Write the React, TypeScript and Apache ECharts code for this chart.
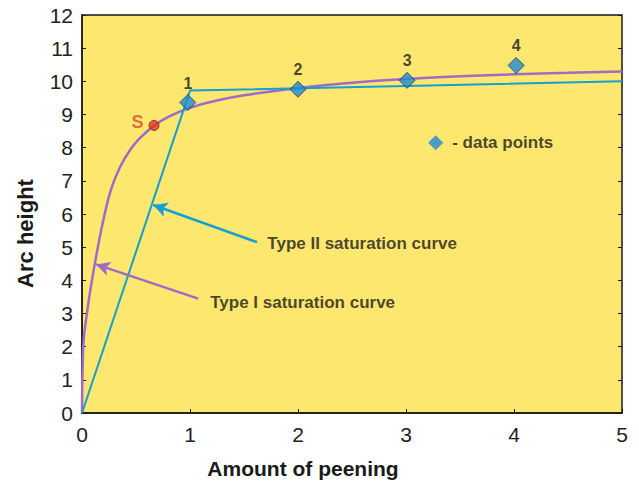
import React, { useEffect, useRef } from "react";
import * as echarts from "echarts";

const xTicks = [0, 1, 2, 3, 4, 5];
const yTicks = [0, 1, 2, 3, 4, 5, 6, 7, 8, 9, 10, 11, 12];

// Type I saturation curve
const typeIX = [0, 0.01, 0.05, 0.1, 0.15, 0.2, 0.27, 0.35, 0.45, 0.55, 0.67, 0.8, 1, 1.25, 1.5, 2, 2.5, 3, 3.5, 4, 4.5, 5];
const typeIY = [0, 1.9, 3.1, 4.15, 5.05, 5.85, 6.75, 7.4, 7.95, 8.33, 8.67, 8.93, 9.2, 9.42, 9.58, 9.8, 9.96, 10.07, 10.15, 10.21, 10.26, 10.3];

// Type II saturation curve
const typeIIX = [0, 1.0, 5];
const typeIIY = [0, 9.72, 10.0];

// data points
const pointLabels = ["1", "2", "3", "4"];
const pointX = [0.98, 2.0, 3.01, 4.02];
const pointY = [9.36, 9.76, 10.03, 10.48];

// saturation point S
const sPoint = [0.667, 8.67];

// annotations
const arrowII = { from: [1.62, 5.15], to: [0.66, 6.27] };
const arrowI = { from: [1.076, 3.45], to: [0.13, 4.48] };
const textII = { pos: [1.716, 5.12], text: "Type II saturation curve" };
const textI = { pos: [1.187, 3.33], text: "Type I saturation curve" };
const legendPos = [3.275, 8.15];

const PURPLE = "#9d6cc6";
const BLUE = "#14a0d2";
const DIAMOND = "#1d8bd3";
const FONT = "'Liberation Sans', Arial, sans-serif";

export default function App() {
  const ref = useRef<HTMLDivElement>(null);
  useEffect(() => {
    if (!ref.current) return;
    const chart = echarts.init(ref.current, undefined, { renderer: "svg" });
    const zip = (xs: number[], ys: number[]) => xs.map((x, i) => [x, ys[i]]);
    chart.setOption({
      animation: false,
      backgroundColor: "#ffffff",
      textStyle: { fontFamily: FONT },
      grid: {
        left: 82,
        right: 17,
        top: 15,
        bottom: 71,
        show: true,
        backgroundColor: "#fde76f",
        borderColor: "#1a1a1a",
        borderWidth: 1.5,
      },
      xAxis: [
        {
          type: "value",
          min: xTicks[0],
          max: xTicks[xTicks.length - 1],
          interval: 1,
          name: "Amount of peening",
          nameLocation: "middle",
          nameGap: 45,
          nameTextStyle: { fontSize: 21, fontWeight: "bold", color: "#1a1a1a", fontFamily: FONT, padding: [0, 98, 0, 0] },
          axisLine: { show: true, lineStyle: { color: "#1a1a1a", width: 1.5 } },
          axisTick: { show: true, inside: true, length: 4, lineStyle: { color: "#1a1a1a" } },
          axisLabel: { fontSize: 21, color: "#222", margin: 11, fontFamily: FONT },
          splitLine: { show: false },
        },
      ],
      yAxis: [
        {
          type: "value",
          min: yTicks[0],
          max: yTicks[yTicks.length - 1],
          interval: 1,
          name: "Arc height",
          nameLocation: "middle",
          nameGap: 46,
          nameTextStyle: { fontSize: 22, fontWeight: "bold", color: "#1a1a1a", fontFamily: FONT, padding: [0, 39, 0, 0] },
          axisLine: { show: true, lineStyle: { color: "#1a1a1a", width: 1.5 } },
          axisTick: { show: true, inside: true, length: 4, lineStyle: { color: "#1a1a1a" } },
          axisLabel: { fontSize: 21, color: "#222", margin: 9, fontFamily: FONT },
          splitLine: { show: false },
        },
        {
          type: "value",
          position: "right",
          min: yTicks[0],
          max: yTicks[yTicks.length - 1],
          interval: 1,
          axisLine: { show: false },
          axisTick: { show: true, inside: true, length: 4, lineStyle: { color: "#1a1a1a" } },
          axisLabel: { show: false },
          splitLine: { show: false },
        },
      ],
      series: [
        {
          name: "Type I",
          type: "line",
          data: zip(typeIX, typeIY),
          smooth: 0.5,
          showSymbol: false,
          symbol: "none",
          lineStyle: { color: PURPLE, width: 2.5 },
          z: 3,
          markLine: {
            silent: true,
            symbol: ["none", "arrow"],
            symbolSize: [11, 14],
            label: { show: false },
            lineStyle: { color: PURPLE, width: 2.5, type: "solid" },
            data: [[{ coord: arrowI.from }, { coord: arrowI.to }]],
          },
        },
        {
          name: "Type II",
          type: "line",
          data: zip(typeIIX, typeIIY),
          showSymbol: false,
          symbol: "none",
          lineStyle: { color: BLUE, width: 2 },
          z: 3,
          markLine: {
            silent: true,
            symbol: ["none", "arrow"],
            symbolSize: [11, 14],
            label: { show: false },
            lineStyle: { color: BLUE, width: 2.5, type: "solid" },
            data: [[{ coord: arrowII.from }, { coord: arrowII.to }]],
          },
        },
        {
          name: "data points",
          type: "scatter",
          data: pointX.map((x, i) => ({ value: [x, pointY[i]], name: pointLabels[i] })),
          symbol: "diamond",
          symbolSize: 16,
          itemStyle: { color: DIAMOND, borderColor: "#1c3d5a", borderWidth: 1 },
          label: {
            show: true,
            position: "top",
            distance: 3,
            formatter: (p: any) => p.name,
            fontSize: 16,
            fontWeight: "bold",
            color: "#1a1a1a",
            fontFamily: FONT,
          },
          z: 5,
        },
        {
          name: "S",
          type: "scatter",
          data: [sPoint],
          symbol: "circle",
          symbolSize: 10,
          itemStyle: { color: "#e4351f", borderColor: "#7a2a1a", borderWidth: 1 },
          label: {
            show: true,
            position: "left",
            distance: 5,
            offset: [0, -3],
            formatter: "S",
            fontSize: 18,
            fontWeight: "bold",
            color: "#d9502b",
            fontFamily: FONT,
          },
          z: 5,
        },
        {
          name: "legend",
          type: "scatter",
          data: [legendPos],
          symbol: "diamond",
          symbolSize: 15,
          itemStyle: { color: DIAMOND },
          label: {
            show: true,
            position: "right",
            distance: 9,
            formatter: "- data points",
            fontSize: 17,
            fontWeight: "bold",
            color: "#1a1a1a",
            fontFamily: FONT,
          },
          z: 5,
        },
        {
          name: "annotations",
          type: "scatter",
          data: [
            { value: textII.pos, name: textII.text },
            { value: textI.pos, name: textI.text },
          ],
          symbolSize: 0,
          itemStyle: { color: "transparent" },
          label: {
            show: true,
            position: "right",
            distance: 0,
            formatter: (p: any) => p.name,
            fontSize: 17,
            fontWeight: "bold",
            color: "#1a1a1a",
            fontFamily: FONT,
          },
          z: 5,
        },
      ],
    });
    return () => chart.dispose();
  }, []);
  return <div ref={ref} style={{ position: "fixed", left: 0, top: 0, width: 639, height: 484 }} />;
}
